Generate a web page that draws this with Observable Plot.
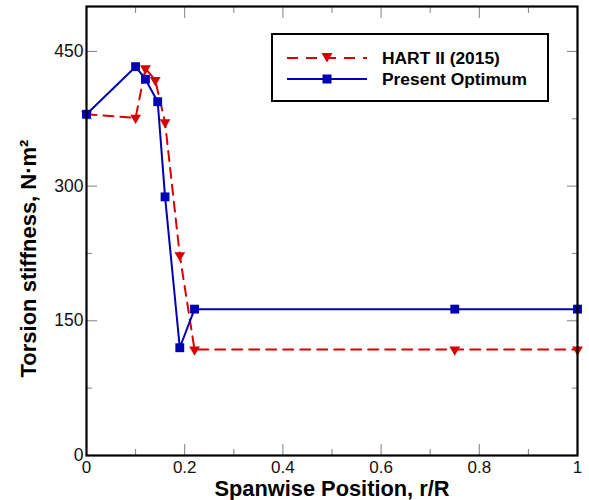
<!DOCTYPE html>
<html>
<head>
<meta charset="utf-8">
<script src="https://cdn.jsdelivr.net/npm/d3@7"></script>
<script src="https://cdn.jsdelivr.net/npm/@observablehq/plot@0.6"></script>
<style>
  body { margin: 0; background: #fff; }
  #wrap { position: relative; width: 589px; height: 500px; font-family: "Liberation Sans", Arial, sans-serif; }
  #legend { position: absolute; left: 271px; top: 33px; width: 278px; height: 69px; border: 2px solid #000; background: #fff; box-sizing: border-box; }
  #legend .row { position: absolute; left: 0; display: flex; align-items: center; height: 20px; }
  #legend .lab { font-weight: bold; font-size: 17.4px; line-height: 20px; color: #000; margin-left: 14px; }
</style>
</head>
<body>
<div id="wrap"></div>
<script>
const hartX = [0, 0.1, 0.12, 0.14, 0.16, 0.19, 0.22, 0.75, 1.0];
const hartY = [380, 376, 431, 418, 371, 223, 118, 118, 118];
const optX  = [0, 0.1, 0.12, 0.145, 0.16, 0.19, 0.22, 0.75, 1.0];
const optY  = [380, 433, 419, 394, 288, 120, 163, 163, 163];
const xMajor = [0, 0.2, 0.4, 0.6, 0.8, 1];
const xMinor = [0.1, 0.3, 0.5, 0.7, 0.9];
const yMajor = [0, 150, 300, 450];
const yMinor = [75, 225, 375];
const seriesNames = ["HART II (2015)", "Present Optimum"];
const xTitle = "Spanwise Position, r/R";
const yTitle = "Torsion stiffness, N·m²";

const RED = "#d80000", BLUE = "#0000b4";
const hart = hartX.map((x, i) => ({x, y: hartY[i]}));
const opt = optX.map((x, i) => ({x, y: optY[i]}));
const fmt = d => String(+d.toFixed(1));
const tickCol = "#808080";

const plot = Plot.plot({
  width: 589, height: 500,
  marginLeft: 86, marginRight: 12, marginTop: 6, marginBottom: 45,
  style: {fontFamily: "'Liberation Sans', Arial, sans-serif", fontSize: "17px", color: "#111", background: "#fff"},
  x: {domain: [0, 1]},
  y: {domain: [0, 500]},
  marks: [
    // inward ticks on all four sides
    Plot.axisX(xMajor, {anchor: "bottom", tickSize: -11, text: null, label: null, stroke: tickCol}),
    Plot.axisX(xMinor, {anchor: "bottom", tickSize: -6, text: null, label: null, stroke: tickCol}),
    Plot.axisX(xMajor, {anchor: "top", tickSize: -11, text: null, label: null, stroke: tickCol}),
    Plot.axisX(xMinor, {anchor: "top", tickSize: -6, text: null, label: null, stroke: tickCol}),
    Plot.axisY(yMajor, {anchor: "left", tickSize: -11, text: null, label: null, stroke: tickCol}),
    Plot.axisY(yMinor, {anchor: "left", tickSize: -6, text: null, label: null, stroke: tickCol}),
    Plot.axisY(yMajor, {anchor: "right", tickSize: -11, text: null, label: null, stroke: tickCol}),
    Plot.axisY(yMinor, {anchor: "right", tickSize: -6, text: null, label: null, stroke: tickCol}),
    // tick labels
    Plot.axisX(xMajor, {anchor: "bottom", tickSize: 0, tickPadding: 5, tickFormat: fmt, label: null, fontSize: 17}),
    Plot.axisY(yMajor, {anchor: "left", tickSize: 0, tickPadding: 3, label: null, fontSize: 17.5}),
    // axis titles
    Plot.text([xTitle], {frameAnchor: "bottom", dy: 40, text: d => d, fontWeight: "bold", fontSize: 21.8, fill: "#000"}),
    Plot.text([yTitle], {frameAnchor: "bottom-left", dx: -58, dy: -78, rotate: -90, textAnchor: "start", lineAnchor: "middle", text: d => d, fontWeight: "bold", fontSize: 22, fill: "#000"}),
    // series
    Plot.line(hart, {x: "x", y: "y", stroke: RED, strokeWidth: 2, strokeDasharray: "10,7"}),
    Plot.dot(hart, {x: "x", y: "y", symbol: "triangle", rotate: 180, r: 4, fill: RED, stroke: "none"}),
    Plot.line(opt, {x: "x", y: "y", stroke: BLUE, strokeWidth: 2}),
    Plot.dot(opt, {x: "x", y: "y", symbol: "square", r: 5, fill: BLUE, stroke: "none"}),
    Plot.frame({stroke: "#000", strokeWidth: 2.2})
  ]
});

const wrap = document.getElementById("wrap");
wrap.appendChild(plot);

const legend = document.createElement("div");
legend.id = "legend";
legend.innerHTML = `
  <div class="row" style="top:13px;left:13px">
    <svg width="82" height="16"><line x1="1" y1="8" x2="81" y2="8" stroke="${RED}" stroke-width="2" stroke-dasharray="11,8"/>
    <path d="M35.5,3 L46.5,3 L41,12.5 Z" fill="${RED}"/></svg>
    <span class="lab">${seriesNames[0]}</span></div>
  <div class="row" style="top:34px;left:13px">
    <svg width="82" height="16"><line x1="1" y1="8" x2="81" y2="8" stroke="${BLUE}" stroke-width="2"/>
    <rect x="36.5" y="3.5" width="9" height="9" fill="${BLUE}"/></svg>
    <span class="lab">${seriesNames[1]}</span></div>`;
wrap.appendChild(legend);
</script>
</body>
</html>
